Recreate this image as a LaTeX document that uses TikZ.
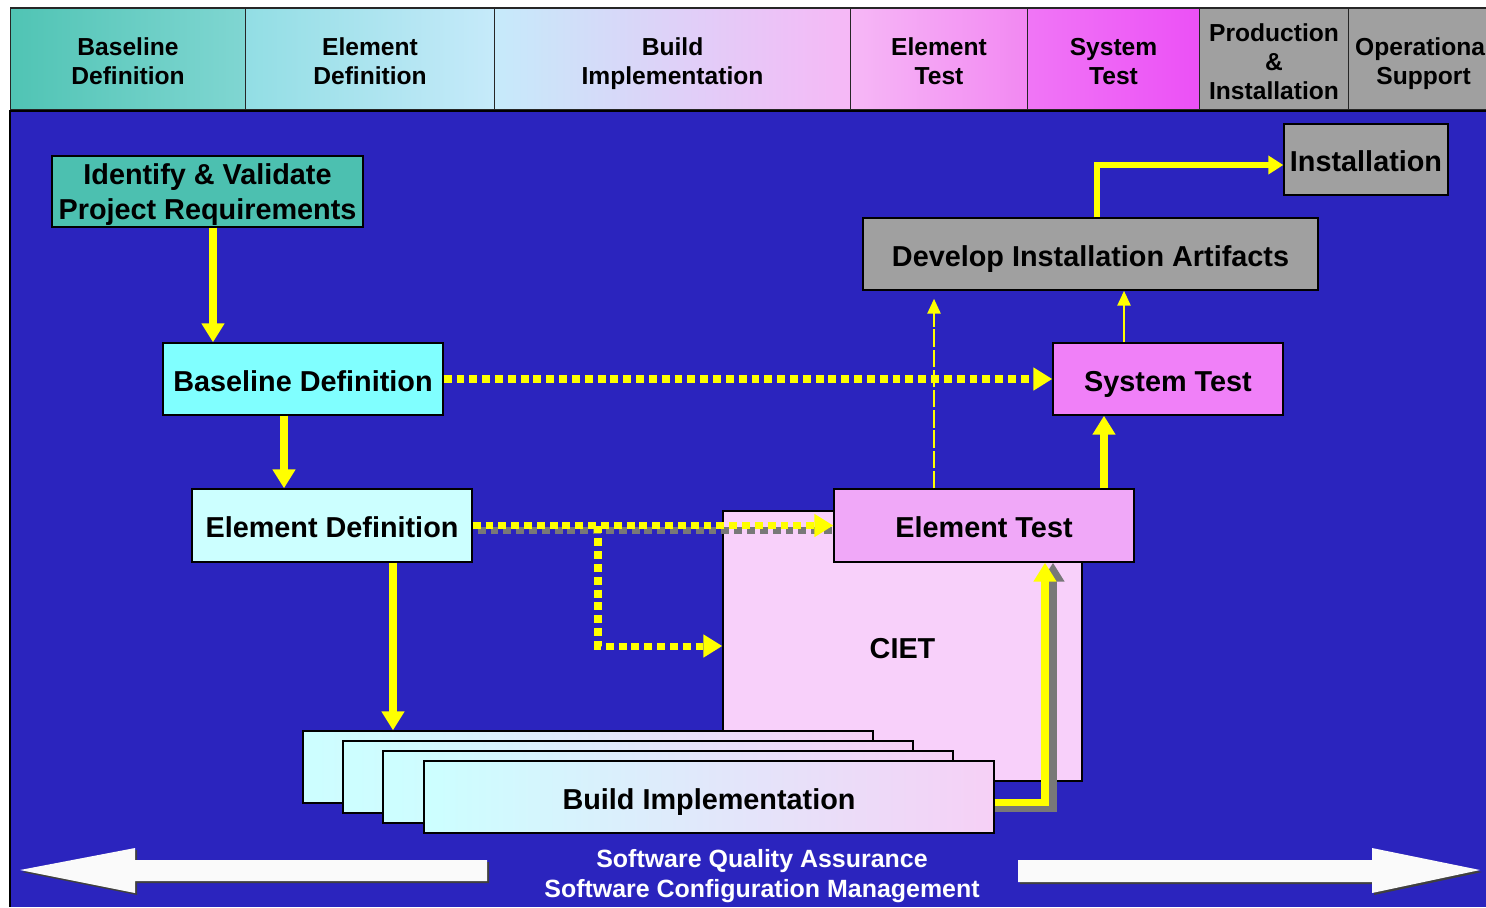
\documentclass[tikz,border=0pt]{standalone}
\usepackage{fontspec}
\setmainfont{Liberation Sans}
\usetikzlibrary{arrows.meta}
\tikzset{
  box/.style={
    draw=black,
    line width=0.8pt,
    inner sep=2pt,
    align=center,
    text height=14pt,
    text depth=0pt,
    font=\fontsize{16.4}{20}\selectfont\bfseries
  },
  hdr-box/.style={
    draw=black!85,
    line width=0.6pt,
    minimum height=2.04cm,
    inner sep=0pt,
    align=center,
    text depth=0pt,
    font=\fontsize{14}{16.5}\selectfont\bfseries
  },
  card-box/.style={box, left color=cardcyan, right color=cardpink, minimum width=11.4cm, minimum height=1.44cm},
  flow/.style={draw=flowyellow, line width=4pt, -{Triangle[width=0.44cm,length=0.38cm]}},
  flow-dotted/.style={flow, dash pattern=on 4.5pt off 2.8pt},
  flow-mid/.style={draw=flowyellow, line width=3pt, -{Triangle[width=0.36cm,length=0.3cm]}},
  flow-thin/.style={draw=flowyellow, line width=1.5pt, -{Triangle[width=0.26cm,length=0.3cm]}},
  flow-dashed/.style={flow-thin, dash pattern=on 10pt off 1.5pt},
  band-text/.style={text=white, align=center, text height=27pt, text depth=0pt, font=\fontsize{14.2}{17}\selectfont\bfseries}
}
\definecolor{planblue}{RGB}{43,36,190}
\definecolor{reqteal}{RGB}{76,192,176}
\definecolor{baseaqua}{RGB}{128,255,255}
\definecolor{elemaqua}{RGB}{204,255,255}
\definecolor{etestpink}{RGB}{240,168,248}
\definecolor{cietpink}{RGB}{248,208,250}
\definecolor{stestpink}{RGB}{240,128,248}
\definecolor{installgray}{RGB}{160,160,160}
\definecolor{flowyellow}{RGB}{255,255,0}
\definecolor{shadowgray}{RGB}{120,120,120}
\definecolor{cardcyan}{RGB}{204,255,255}
\definecolor{cardpink}{RGB}{246,208,246}
\definecolor{hdrA}{RGB}{80,196,180}
\definecolor{hdrB}{RGB}{128,214,210}
\definecolor{hdrC}{RGB}{146,222,228}
\definecolor{hdrD}{RGB}{198,234,250}
\definecolor{hdrE}{RGB}{246,184,246}
\definecolor{hdrF}{RGB}{242,136,242}
\definecolor{hdrG}{RGB}{240,118,246}
\definecolor{hdrH}{RGB}{236,80,246}

\begin{document}
\begin{tikzpicture}[x=0.02cm, y=-0.02cm]
  \useasboundingbox (0,0) rectangle (1486,907);
  % Background
  \fill[planblue] (10,110) rectangle (1486,907);
  \draw[black, line width=0.8pt] (10,110) -- (10,907);
  % Phase header
  \foreach \xa/\w/\ca/\cb/\th/\txt [count=\i] in {
      10/235/hdrA/hdrB/29.5pt/{Baseline\\Definition},
      245/249/hdrC/hdrD/29.5pt/{Element\\Definition},
      494/356/hdrD/hdrE/29.5pt/{Build\\Implementation},
      850/177/hdrE/hdrF/29.5pt/{Element\\Test},
      1027/172/hdrG/hdrH/29.5pt/{System\\Test},
      1199/149/installgray/installgray/46pt/{Production\\\&\\Installation},
      1348/150/installgray/installgray/29.5pt/{Operational\\Support}}{
    \node[hdr-box, left color=\ca, right color=\cb, text height=\th, minimum width=\w*0.02cm, anchor=west] (hdr-\i) at (\xa,59) {\txt};
  }
  \draw[black, line width=1.6pt] (10,111) -- (1486,111);

  % Process boxes
  \node[box, fill=cietpink, minimum width=7.18cm, minimum height=5.4cm] (ciet) at (902.5,646) {CIET};
  \foreach \i in {1,2,3}{
    \node[card-box] (card-\i) at ({548+40*\i},{757+10*\i}) {};
  }
  \node[card-box] (build) at (709,797) {Build Implementation};
  \node[box, fill=reqteal, text height=32pt, minimum width=6.22cm, minimum height=1.42cm] (req) at (207.5,191.5) {Identify \& Validate\\Project Requirements};
  \node[box, fill=baseaqua, minimum width=5.6cm, minimum height=1.44cm] (base) at (303,379) {Baseline Definition};
  \node[box, fill=elemaqua, minimum width=5.6cm, minimum height=1.46cm] (elem) at (332,525.5) {Element Definition};
  \node[box, fill=etestpink, minimum width=6cm, minimum height=1.46cm] (etest) at (984,525.5) {Element Test};
  \node[box, fill=stestpink, minimum width=4.6cm, minimum height=1.44cm] (stest) at (1168,379) {System Test};
  \node[box, fill=installgray, minimum width=9.1cm, minimum height=1.44cm] (dev) at (1090.5,254) {Develop Installation Artifacts};
  \node[box, fill=installgray, minimum width=3.28cm, minimum height=1.42cm] (inst) at (1366,159.5) {Installation};

  % Connector ends
  \coordinate (req-out) at ([xshift=0.11cm]req.south);
  \coordinate (base-out) at ([xshift=-0.38cm]base.south);
  \coordinate (elem-out) at ([xshift=1.22cm]elem.south);
  \coordinate (build-out) at ([yshift=-0.1cm]build.east);
  \coordinate (etest-in) at ([xshift=1.22cm]etest.south);
  \coordinate (etest-out) at ([xshift=2.4cm]etest.north);
  \coordinate (ciet-tap) at ([xshift=-1cm]etest.north);
  \coordinate (dev-in) at ([yshift=-0.16cm]dev.south);
  \coordinate (stest-out) at ([xshift=-0.88cm]stest.north);
  \coordinate (dev-out) at ([xshift=0.13cm]dev.north);
  \coordinate (inst-in) at ([yshift=-0.11cm]inst.west);
  \coordinate (branch) at (598,525.5);

  % Shadows
  \draw[flow-dotted, draw=shadowgray, -] ([shift={(0.1cm,-0.1cm)}]elem.east) -- ([yshift=-0.1cm]etest.west);
  \draw[flow, draw=shadowgray] ([yshift=-0.12cm]build-out) -| ([xshift=0.16cm]etest-in);

  % Flow arrows
  \draw[flow] (req-out) -- (req-out |- base.north);
  \draw[flow] (base-out) -- (base-out |- elem.north);
  \draw[flow] (elem-out) -- (elem-out |- card-1.north);
  \draw[flow-dotted] (branch) |- (ciet.west);
  \draw[flow-dotted] (base.east) -- (stest.west);
  \draw[flow-dotted] (elem.east) -- (etest.west);
  \draw[flow] (build-out) -| (etest-in);
  \draw[flow] (etest-out) -- (etest-out |- stest.south);
  \draw[flow-dashed] (ciet-tap) -- (ciet-tap |- dev-in);
  \draw[flow-thin] (stest-out) -- (stest-out |- dev.south);
  \draw[flow-mid] (dev-out) |- (inst-in);

  % Quality band
  \fill[black!75, shift={(2,2)}] (20,870) -- (135,848) -- (135,860) -- (487,860) -- (487,881) -- (135,881) -- (135,893) -- cycle;
  \fill[black!75, shift={(2,2)}] (1480,870) -- (1372,848) -- (1372,860) -- (1018,860) -- (1018,882) -- (1372,882) -- (1372,893) -- cycle;
  \fill[white!98!black] (20,870) -- (135,848) -- (135,860) -- (487,860) -- (487,881) -- (135,881) -- (135,893) -- cycle;
  \fill[white!98!black] (1480,870) -- (1372,848) -- (1372,860) -- (1018,860) -- (1018,882) -- (1372,882) -- (1372,893) -- cycle;
  \node[band-text] (sqa) at (762,874) {Software Quality Assurance\\Software Configuration Management};
\end{tikzpicture}
\end{document}
